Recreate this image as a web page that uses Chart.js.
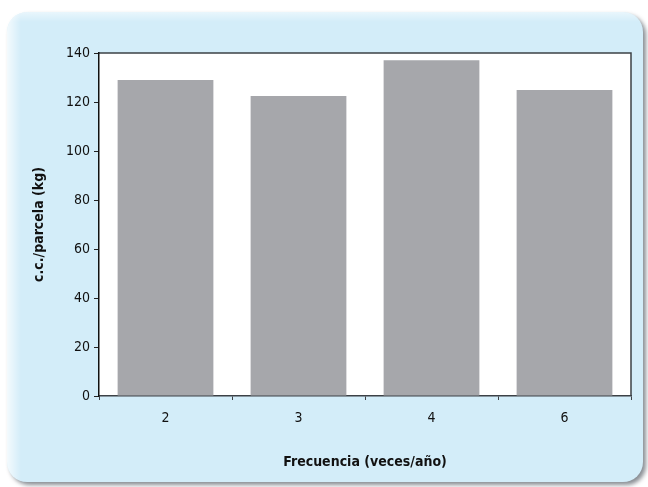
<!DOCTYPE html>
<html>
<head>
<meta charset="utf-8">
<script src="https://cdn.jsdelivr.net/npm/chart.js@4/dist/chart.umd.min.js"></script>
<style>
  html, body { margin: 0; padding: 0; background: #ffffff; }
  #wrap { width: 648px; height: 487px; }
</style>
</head>
<body>
<div id="wrap"><canvas id="c" width="648" height="487"></canvas></div>
<script>
// Harvest per plot by cutting frequency
const categories = ['2', '3', '4', '6'];
const harvestKg = [129, 122.4, 137, 124.9];
const yTicks = [0, 20, 40, 60, 80, 100, 120, 140];

const FONT = '"Liberation Sans Narrow", "Arial Narrow", "DejaVu Sans Condensed", sans-serif';

// Rounded light-blue panel behind the chart, and white plot area with frame
const panelPlugin = {
  id: 'panel',
  beforeDraw(chart) {
    const ctx = chart.ctx;
    const x = 7, y = 12, w = 636, h = 470, r = 20;
    ctx.save();
    ctx.beginPath();
    ctx.roundRect(x, y, w, h, r);
    ctx.shadowColor = 'rgba(40,50,60,0.55)';
    ctx.shadowOffsetX = 3;
    ctx.shadowOffsetY = 3;
    ctx.shadowBlur = 4;
    ctx.fillStyle = '#d3edf9';
    ctx.fill();
    ctx.restore();

    // soft light edge on the left and top
    ctx.save();
    ctx.beginPath();
    ctx.roundRect(x, y, w, h, r);
    ctx.clip();
    let g = ctx.createLinearGradient(x, 0, x + 14, 0);
    g.addColorStop(0, 'rgba(255,255,255,0.75)');
    g.addColorStop(1, 'rgba(255,255,255,0)');
    ctx.fillStyle = g;
    ctx.fillRect(x, y, 14, h);
    g = ctx.createLinearGradient(0, y, 0, y + 10);
    g.addColorStop(0, 'rgba(255,255,255,0.5)');
    g.addColorStop(1, 'rgba(255,255,255,0)');
    ctx.fillStyle = g;
    ctx.fillRect(x, y, w, 10);
    ctx.restore();

    const a = chart.chartArea;
    ctx.save();
    ctx.fillStyle = '#ffffff';
    ctx.fillRect(a.left, a.top, a.right - a.left, a.bottom - a.top);
    ctx.strokeStyle = '#3c4146';
    ctx.lineWidth = 1.5;
    ctx.beginPath();
    ctx.moveTo(a.left, a.top);
    ctx.lineTo(a.right, a.top);
    ctx.lineTo(a.right, a.bottom);
    ctx.stroke();
    ctx.restore();
  }
};

new Chart(document.getElementById('c'), {
  type: 'bar',
  data: {
    labels: categories,
    datasets: [{
      data: harvestKg,
      backgroundColor: '#a6a7ab',
      borderWidth: 0,
      categoryPercentage: 0.72,
      barPercentage: 1.0
    }]
  },
  options: {
    responsive: false,
    animation: false,
    devicePixelRatio: 1,
    layout: { padding: { left: 0, top: 53, right: 17, bottom: 0 } },
    plugins: { legend: { display: false }, tooltip: { enabled: false } },
    scales: {
      x: {
        afterFit(s) { s.height = 91; },
        grid: {
          display: true,
          drawOnChartArea: false,
          drawTicks: true,
          tickLength: 4,
          color: '#3c4146',
          offset: true
        },
        border: { display: true, color: '#3c4146', width: 1.5 },
        ticks: {
          color: '#111111',
          padding: 10,
          font: { family: FONT, size: 14 }
        },
        title: {
          display: true,
          text: 'Frecuencia (veces/año)',
          color: '#111111',
          font: { family: FONT, size: 14, weight: 'bold' },
          padding: { top: 0, bottom: 16 }
        }
      },
      y: {
        min: 0,
        max: 140,
        afterFit(s) { s.width = 99; },
        afterBuildTicks(s) { s.ticks = yTicks.map(v => ({ value: v })); },
        grid: {
          display: true,
          drawOnChartArea: false,
          drawTicks: true,
          tickLength: 5,
          color: '#222222'
        },
        border: { display: true, color: '#111111', width: 1.5 },
        ticks: {
          color: '#111111',
          padding: 4,
          font: { family: FONT, size: 14 }
        },
        title: {
          display: true,
          text: 'c.c./parcela (kg)',
          color: '#111111',
          font: { family: FONT, size: 14, weight: 'bold' },
          padding: { top: 31, bottom: 0 }
        }
      }
    }
  },
  plugins: [panelPlugin]
});
</script>
</body>
</html>
